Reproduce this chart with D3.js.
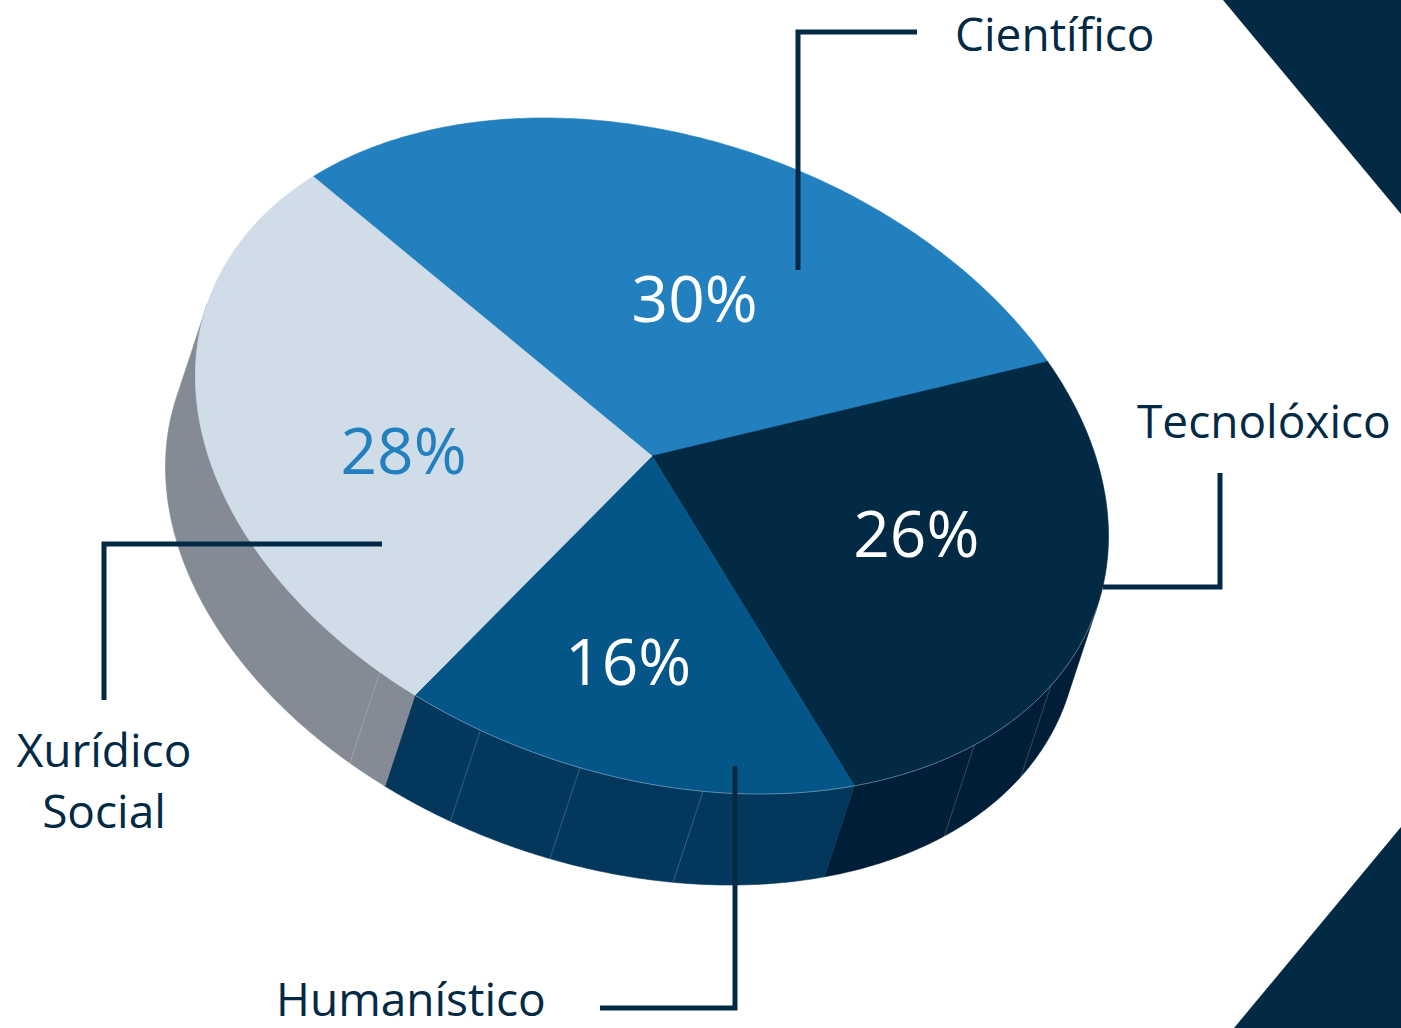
<!DOCTYPE html>
<html>
<head>
<meta charset="utf-8">
<script src="https://cdn.jsdelivr.net/npm/d3@7"></script>
<style>
  html, body { margin: 0; padding: 0; background: #fff; }
  svg { display: block; }
</style>
</head>
<body>
<svg id="chart"></svg>
<script>
// slice data, clockwise starting from the top-left boundary
const categories = ["Científico", "Tecnolóxico", "Humanístico", "Xurídico Social"]
const values = [30, 26, 16, 28]
const valueLabels = ["30%", "26%", "16%", "28%"]

const width = 1401
const height = 1028
const navy = "#022a45"

// 3d look: tilted ellipse + a drop for the side wall
const cx = 652, cy = 456
const rx = 470, ry = 319
const tilt = 18.9 * Math.PI / 180
const drop = [-30, 91]
const startDeg = -61

const topColors = ["#2280bf", "#022a45", "#055688", "#d0dce8"]
const sideColors = ["#1a6aa0", "#011e38", "#03385c", "#858b95"]
const pctColors = ["#ffffff", "#ffffff", "#ffffff", "#2280bf"]
// where the percent numbers sit, nudged from the slice centre
const pctNudge = [[16, 16], [24, -18], [-13, 26], [0, 11]]
// faint edges on the side wall (degrees, pie convention)
const facetDeg = [106, 122, 160.5, 176, 189, 203.5]

const svg = d3.select('#chart')
    .attr('width', width)
    .attr('height', height)
    .style('font-family', "'Open Sans', 'Noto Sans', sans-serif")

const cosT = Math.cos(tilt), sinT = Math.sin(tilt)

// angle in pie convention (0 = up, clockwise) -> screen point
const proj = (a, r = 1, down = 0) => {
    const ux = r * rx * Math.sin(a)
    const uy = -r * ry * Math.cos(a)
    return [
        cx + ux * cosT - uy * sinT + down * drop[0],
        cy + ux * sinT + uy * cosT + down * drop[1]
    ]
}

const arcPoints = (a0, a1, down = 0) => {
    const n = Math.max(2, Math.ceil(Math.abs(a1 - a0) / 0.01))
    return d3.range(n + 1).map(i => proj(a0 + (a1 - a0) * i / n, 1, down))
}

const line = d3.line()

const pie = d3.pie()
    .sort(null)
    .startAngle(startDeg * Math.PI / 180)
    .endAngle((startDeg + 360) * Math.PI / 180)

const arcs = pie(values)

// decorative corner triangles
svg.append('path')
    .attr('d', line([[1223, 0], [width, 0], [width, 214]]) + 'Z')
    .attr('fill', navy)
svg.append('path')
    .attr('d', line([[width, 827], [width, height], [1234, height]]) + 'Z')
    .attr('fill', navy)

// side walls: only the front half (pi/2 .. 3pi/2) is visible
const frontA = Math.PI / 2, frontB = 3 * Math.PI / 2
const sides = svg.append('g')
arcs.forEach((d, i) => {
    const a0 = Math.max(d.startAngle, frontA)
    const a1 = Math.min(d.endAngle, frontB)
    if (a1 <= a0) return
    const pts = arcPoints(a0, a1, 0).concat(arcPoints(a1, a0, 1))
    sides.append('path')
        .attr('d', line(pts) + 'Z')
        .attr('fill', sideColors[i])
        .attr('stroke', sideColors[i])
        .attr('stroke-width', 0.6)
})

// faint facet edges on the wall
facetDeg.forEach(deg => {
    const a = deg * Math.PI / 180
    sides.append('path')
        .attr('d', line([proj(a, 1, 0), proj(a, 1, 1)]))
        .attr('stroke', '#ffffff')
        .attr('stroke-opacity', 0.25)
        .attr('stroke-width', 0.8)
})

// top faces
const tops = svg.append('g')
arcs.forEach((d, i) => {
    const pts = [[cx, cy]].concat(arcPoints(d.startAngle, d.endAngle, 0))
    tops.append('path')
        .attr('d', line(pts) + 'Z')
        .attr('fill', topColors[i])
        .attr('stroke', topColors[i])
        .attr('stroke-width', 0.6)
})

// light rim where the top meets the wall
svg.append('path')
    .attr('d', line(arcPoints(frontA, frontB, 0)))
    .attr('fill', 'none')
    .attr('stroke', '#c8d8e8')
    .attr('stroke-opacity', 0.45)
    .attr('stroke-width', 0.9)

// percent labels
arcs.forEach((d, i) => {
    const mid = (d.startAngle + d.endAngle) / 2
    const p = proj(mid, 0.55, 0)
    svg.append('text')
        .attr('x', p[0] + pctNudge[i][0])
        .attr('y', p[1] + pctNudge[i][1])
        .attr('text-anchor', 'middle')
        .attr('dominant-baseline', 'central')
        .attr('font-size', 64)
        .attr('fill', pctColors[i])
        .text(valueLabels[i])
})

// leader lines
const leaders = [
    [[917, 32], [798, 32], [798, 270]],
    [[1220, 473], [1220, 587], [1103, 587]],
    [[382, 544], [104, 544], [104, 700]],
    [[600, 1008], [735, 1008], [735, 766]]
]
leaders.forEach(pts => {
    svg.append('path')
        .attr('d', line(pts))
        .attr('fill', 'none')
        .attr('stroke', navy)
        .attr('stroke-width', 5)
})

// category labels
const labelPos = [
    { x: 955, y: 51, anchor: 'start', lines: [categories[0]] },
    { x: 1137, y: 438, anchor: 'start', lines: [categories[1]] },
    { x: 276, y: 1016, anchor: 'start', lines: [categories[2]] },
    { x: 104, y: 767, anchor: 'middle', lines: categories[3].split(' ') }
]
labelPos.forEach(l => {
    const t = svg.append('text')
        .attr('x', l.x)
        .attr('y', l.y)
        .attr('text-anchor', l.anchor)
        .attr('font-size', 46)
        .attr('fill', navy)
    l.lines.forEach((s, k) => {
        t.append('tspan')
            .attr('x', l.x)
            .attr('dy', k === 0 ? 0 : 61)
            .text(s)
    })
})
</script>
</body>
</html>
